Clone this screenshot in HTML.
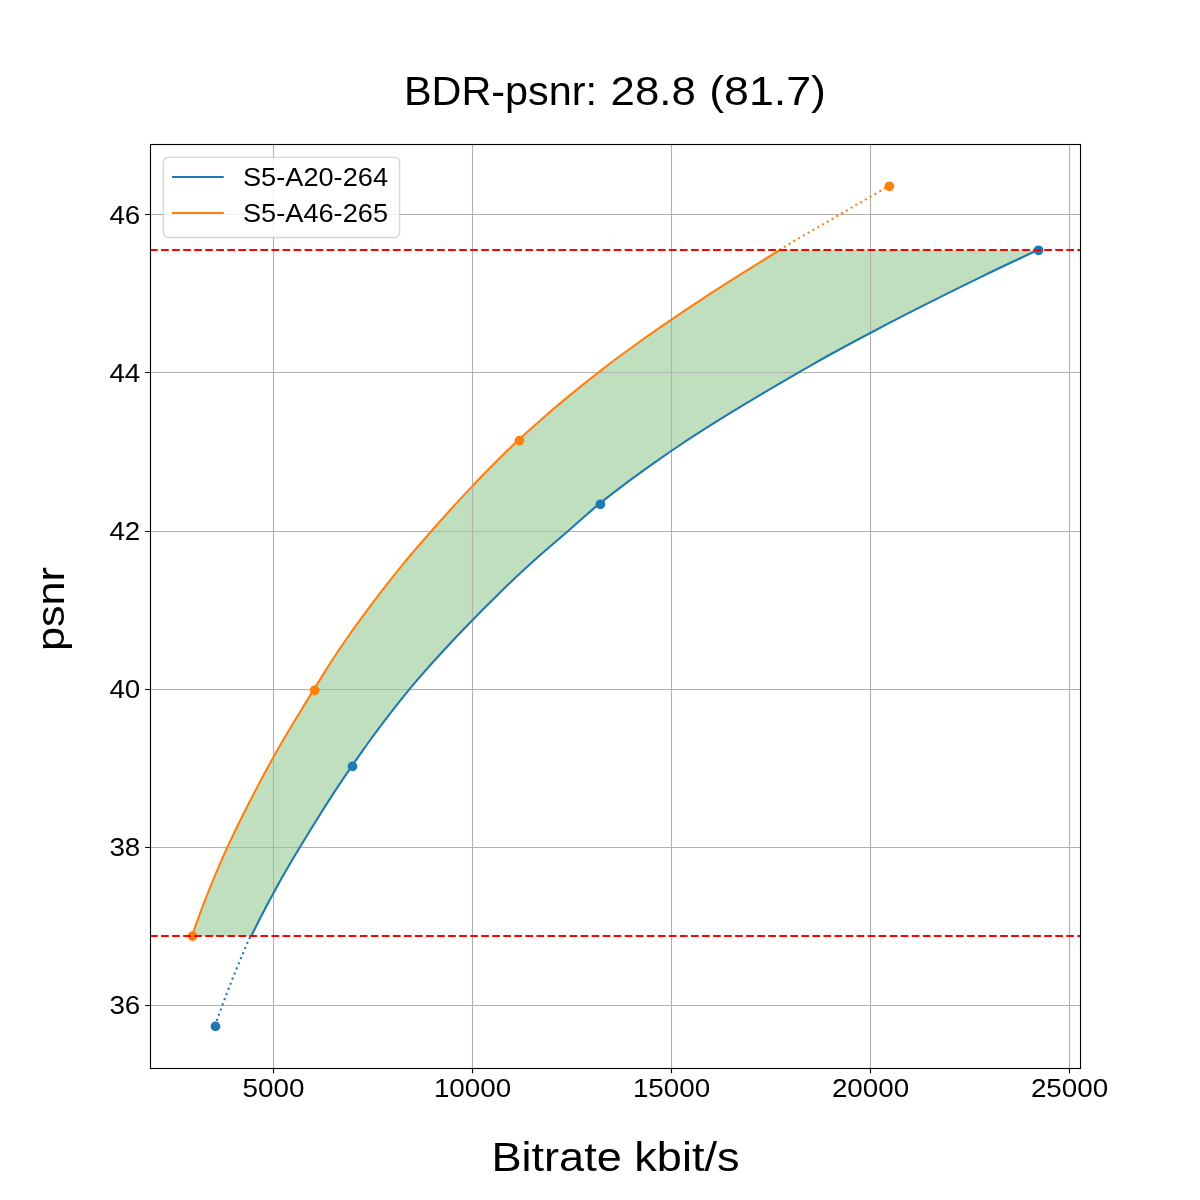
<!DOCTYPE html>
<html><head><meta charset="utf-8"><title>BDR-psnr chart</title>
<style>html,body{margin:0;padding:0;background:#fff;overflow:hidden}svg{display:block}text{font-family:"Liberation Sans",sans-serif;fill:#000}svg{will-change:transform}</style>
</head><body>
<svg width="1200" height="1200" viewBox="0 0 1200 1200">
<rect x="0" y="0" width="1200" height="1200" fill="#ffffff"/>
<path d="M780.00,250.00 L770.49,255.76 L761.08,261.53 L751.76,267.29 L742.54,273.06 L733.41,278.82 L724.38,284.59 L715.44,290.35 L706.60,296.12 L697.84,301.88 L689.18,307.65 L680.60,313.41 L672.12,319.18 L663.72,324.94 L655.39,330.71 L647.14,336.47 L638.99,342.24 L630.95,348.00 L623.03,353.76 L615.24,359.53 L607.59,365.29 L600.10,371.06 L592.75,376.82 L585.49,382.59 L578.33,388.35 L571.26,394.12 L564.29,399.88 L557.41,405.65 L550.63,411.41 L543.96,417.18 L537.38,422.94 L530.90,428.71 L524.53,434.47 L518.27,440.24 L512.13,446.00 L506.13,451.76 L500.26,457.53 L494.50,463.29 L488.82,469.06 L483.22,474.82 L477.67,480.59 L472.16,486.35 L466.71,492.12 L461.32,497.88 L455.99,503.65 L450.73,509.41 L445.51,515.18 L440.35,520.94 L435.23,526.71 L430.15,532.47 L425.10,538.24 L420.09,544.00 L415.13,549.76 L410.23,555.53 L405.40,561.29 L400.64,567.06 L395.97,572.82 L391.38,578.59 L386.86,584.35 L382.39,590.12 L377.99,595.88 L373.63,601.65 L369.32,607.41 L365.05,613.18 L360.81,618.94 L356.61,624.71 L352.46,630.47 L348.37,636.24 L344.35,642.00 L340.41,647.76 L336.55,653.53 L332.78,659.29 L329.09,665.06 L325.45,670.82 L321.85,676.59 L318.28,682.35 L314.73,688.12 L311.18,693.88 L307.62,699.65 L304.07,705.41 L300.53,711.18 L297.00,716.94 L293.50,722.71 L290.03,728.47 L286.59,734.24 L283.20,740.00 L279.86,745.76 L276.57,751.53 L273.35,757.29 L270.18,763.06 L267.03,768.82 L263.90,774.59 L260.81,780.35 L257.74,786.12 L254.71,791.88 L251.71,797.65 L248.74,803.41 L245.80,809.18 L242.90,814.94 L240.04,820.71 L237.21,826.47 L234.43,832.24 L231.68,838.00 L228.98,843.76 L226.32,849.53 L223.71,855.29 L221.16,861.06 L218.67,866.82 L216.22,872.59 L213.82,878.35 L211.46,884.12 L209.15,889.88 L206.87,895.65 L204.63,901.41 L202.42,907.18 L200.26,912.94 L198.13,918.71 L196.04,924.47 L194.00,930.24 L192.00,936.00 L251.30,936.00 L254.12,930.24 L256.99,924.47 L259.91,918.71 L262.87,912.94 L265.88,907.18 L268.93,901.41 L272.03,895.65 L275.16,889.88 L278.35,884.12 L281.60,878.35 L284.90,872.59 L288.24,866.82 L291.63,861.06 L295.06,855.29 L298.52,849.53 L302.01,843.76 L305.52,838.00 L309.04,832.24 L312.59,826.47 L316.16,820.71 L319.76,814.94 L323.39,809.18 L327.05,803.41 L330.75,797.65 L334.49,791.88 L338.28,786.12 L342.11,780.35 L345.99,774.59 L349.92,768.82 L353.90,763.06 L357.93,757.29 L362.01,751.53 L366.13,745.76 L370.30,740.00 L374.53,734.24 L378.81,728.47 L383.14,722.71 L387.53,716.94 L391.98,711.18 L396.48,705.41 L401.05,699.65 L405.69,693.88 L410.38,688.12 L415.21,682.35 L420.16,676.59 L425.21,670.82 L430.36,665.06 L435.58,659.29 L440.86,653.53 L446.16,647.76 L451.52,642.00 L456.94,636.24 L462.43,630.47 L467.97,624.71 L473.57,618.94 L479.23,613.18 L484.95,607.41 L490.74,601.65 L496.58,595.88 L502.51,590.12 L508.50,584.35 L514.58,578.59 L520.73,572.82 L526.96,567.06 L533.27,561.29 L539.70,555.53 L546.29,549.76 L552.97,544.00 L559.69,538.24 L566.38,532.47 L572.96,526.71 L579.45,520.94 L585.98,515.18 L592.67,509.41 L599.67,503.65 L606.89,497.88 L614.28,492.12 L621.82,486.35 L629.51,480.59 L637.35,474.82 L645.33,469.06 L653.45,463.29 L661.70,457.53 L670.09,451.76 L678.62,446.00 L687.31,440.24 L696.16,434.47 L705.15,428.71 L714.28,422.94 L723.53,417.18 L732.90,411.41 L742.38,405.65 L751.96,399.88 L761.62,394.12 L771.37,388.35 L781.18,382.59 L791.06,376.82 L800.99,371.06 L811.05,365.29 L821.27,359.53 L831.64,353.76 L842.17,348.00 L852.83,342.24 L863.64,336.47 L874.58,330.71 L885.61,324.94 L896.72,319.18 L907.92,313.41 L919.22,307.65 L930.61,301.88 L942.10,296.12 L953.68,290.35 L965.38,284.59 L977.18,278.82 L989.09,273.06 L1001.11,267.29 L1013.25,261.53 L1025.52,255.76 L1037.90,250.00 Z" fill="#008000" fill-opacity="0.25" stroke="none"/>
<path d="M273.5,144 V1068 M472.5,144 V1068 M671.5,144 V1068 M870.5,144 V1068 M1069.5,144 V1068 M150,1005.5 H1080 M150,847.5 H1080 M150,689.5 H1080 M150,531.5 H1080 M150,372.5 H1080 M150,214.5 H1080" stroke="#b0b0b0" stroke-width="1.11" fill="none"/>
<path d="M214.8,1026.1 Q231.0,980.2 250.6,935.7" stroke="#1f77b4" stroke-width="2.08" stroke-dasharray="2.08 3.44" fill="none"/>
<path d="M779.7,249.5 L889.1,185.8" stroke="#ff7f0e" stroke-width="2.08" stroke-dasharray="2.08 3.44" stroke-dashoffset="0.7" fill="none"/>
<path d="M1037.90,250.00 L1025.52,255.76 L1013.25,261.53 L1001.11,267.29 L989.09,273.06 L977.18,278.82 L965.38,284.59 L953.68,290.35 L942.10,296.12 L930.61,301.88 L919.22,307.65 L907.92,313.41 L896.72,319.18 L885.61,324.94 L874.58,330.71 L863.64,336.47 L852.83,342.24 L842.17,348.00 L831.64,353.76 L821.27,359.53 L811.05,365.29 L800.99,371.06 L791.06,376.82 L781.18,382.59 L771.37,388.35 L761.62,394.12 L751.96,399.88 L742.38,405.65 L732.90,411.41 L723.53,417.18 L714.28,422.94 L705.15,428.71 L696.16,434.47 L687.31,440.24 L678.62,446.00 L670.09,451.76 L661.70,457.53 L653.45,463.29 L645.33,469.06 L637.35,474.82 L629.51,480.59 L621.82,486.35 L614.28,492.12 L606.89,497.88 L599.67,503.65 L592.67,509.41 L585.98,515.18 L579.45,520.94 L572.96,526.71 L566.38,532.47 L559.69,538.24 L552.97,544.00 L546.29,549.76 L539.70,555.53 L533.27,561.29 L526.96,567.06 L520.73,572.82 L514.58,578.59 L508.50,584.35 L502.51,590.12 L496.58,595.88 L490.74,601.65 L484.95,607.41 L479.23,613.18 L473.57,618.94 L467.97,624.71 L462.43,630.47 L456.94,636.24 L451.52,642.00 L446.16,647.76 L440.86,653.53 L435.58,659.29 L430.36,665.06 L425.21,670.82 L420.16,676.59 L415.21,682.35 L410.38,688.12 L405.69,693.88 L401.05,699.65 L396.48,705.41 L391.98,711.18 L387.53,716.94 L383.14,722.71 L378.81,728.47 L374.53,734.24 L370.30,740.00 L366.13,745.76 L362.01,751.53 L357.93,757.29 L353.90,763.06 L349.92,768.82 L345.99,774.59 L342.11,780.35 L338.28,786.12 L334.49,791.88 L330.75,797.65 L327.05,803.41 L323.39,809.18 L319.76,814.94 L316.16,820.71 L312.59,826.47 L309.04,832.24 L305.52,838.00 L302.01,843.76 L298.52,849.53 L295.06,855.29 L291.63,861.06 L288.24,866.82 L284.90,872.59 L281.60,878.35 L278.35,884.12 L275.16,889.88 L272.03,895.65 L268.93,901.41 L265.88,907.18 L262.87,912.94 L259.91,918.71 L256.99,924.47 L254.12,930.24 L251.30,936.00" stroke="#1f77b4" stroke-width="2.08" fill="none" stroke-linejoin="round"/>
<path d="M780.00,250.00 L770.49,255.76 L761.08,261.53 L751.76,267.29 L742.54,273.06 L733.41,278.82 L724.38,284.59 L715.44,290.35 L706.60,296.12 L697.84,301.88 L689.18,307.65 L680.60,313.41 L672.12,319.18 L663.72,324.94 L655.39,330.71 L647.14,336.47 L638.99,342.24 L630.95,348.00 L623.03,353.76 L615.24,359.53 L607.59,365.29 L600.10,371.06 L592.75,376.82 L585.49,382.59 L578.33,388.35 L571.26,394.12 L564.29,399.88 L557.41,405.65 L550.63,411.41 L543.96,417.18 L537.38,422.94 L530.90,428.71 L524.53,434.47 L518.27,440.24 L512.13,446.00 L506.13,451.76 L500.26,457.53 L494.50,463.29 L488.82,469.06 L483.22,474.82 L477.67,480.59 L472.16,486.35 L466.71,492.12 L461.32,497.88 L455.99,503.65 L450.73,509.41 L445.51,515.18 L440.35,520.94 L435.23,526.71 L430.15,532.47 L425.10,538.24 L420.09,544.00 L415.13,549.76 L410.23,555.53 L405.40,561.29 L400.64,567.06 L395.97,572.82 L391.38,578.59 L386.86,584.35 L382.39,590.12 L377.99,595.88 L373.63,601.65 L369.32,607.41 L365.05,613.18 L360.81,618.94 L356.61,624.71 L352.46,630.47 L348.37,636.24 L344.35,642.00 L340.41,647.76 L336.55,653.53 L332.78,659.29 L329.09,665.06 L325.45,670.82 L321.85,676.59 L318.28,682.35 L314.73,688.12 L311.18,693.88 L307.62,699.65 L304.07,705.41 L300.53,711.18 L297.00,716.94 L293.50,722.71 L290.03,728.47 L286.59,734.24 L283.20,740.00 L279.86,745.76 L276.57,751.53 L273.35,757.29 L270.18,763.06 L267.03,768.82 L263.90,774.59 L260.81,780.35 L257.74,786.12 L254.71,791.88 L251.71,797.65 L248.74,803.41 L245.80,809.18 L242.90,814.94 L240.04,820.71 L237.21,826.47 L234.43,832.24 L231.68,838.00 L228.98,843.76 L226.32,849.53 L223.71,855.29 L221.16,861.06 L218.67,866.82 L216.22,872.59 L213.82,878.35 L211.46,884.12 L209.15,889.88 L206.87,895.65 L204.63,901.41 L202.42,907.18 L200.26,912.94 L198.13,918.71 L196.04,924.47 L194.00,930.24 L192.00,936.00" stroke="#ff7f0e" stroke-width="2.08" fill="none" stroke-linejoin="round"/>
<circle cx="215.5" cy="1026.4" r="4.86" fill="#1f77b4"/>
<circle cx="352.5" cy="766.4" r="4.86" fill="#1f77b4"/>
<circle cx="600.4" cy="504.3" r="4.86" fill="#1f77b4"/>
<circle cx="1038.5" cy="250.3" r="4.86" fill="#1f77b4"/>
<circle cx="192.5" cy="936.1" r="4.86" fill="#ff7f0e"/>
<circle cx="314.7" cy="690.3" r="4.86" fill="#ff7f0e"/>
<circle cx="519.5" cy="440.6" r="4.86" fill="#ff7f0e"/>
<circle cx="889.4" cy="186.3" r="4.86" fill="#ff7f0e"/>
<path d="M150,250 H1080 M150,936 H1080" stroke="#ff0000" stroke-width="2.08" stroke-dasharray="7.71 3.33" fill="none"/>
<rect x="150.5" y="144.5" width="930" height="924" fill="none" stroke="#000" stroke-width="1.11"/>
<path d="M273.5,1068 V1073.36 M472.5,1068 V1073.36 M671.5,1068 V1073.36 M870.5,1068 V1073.36 M1069.5,1068 V1073.36 M145.14,1005.5 H150 M145.14,847.5 H150 M145.14,689.5 H150 M145.14,531.5 H150 M145.14,372.5 H150 M145.14,214.5 H150" stroke="#000" stroke-width="1.11" fill="none"/>
<text x="273.5" y="1097" font-family="Liberation Sans, sans-serif" font-size="25" text-anchor="middle" textLength="61.8" lengthAdjust="spacingAndGlyphs">5000</text>
<text x="472.5" y="1097" font-family="Liberation Sans, sans-serif" font-size="25" text-anchor="middle" textLength="77.25" lengthAdjust="spacingAndGlyphs">10000</text>
<text x="671.5" y="1097" font-family="Liberation Sans, sans-serif" font-size="25" text-anchor="middle" textLength="77.25" lengthAdjust="spacingAndGlyphs">15000</text>
<text x="870.5" y="1097" font-family="Liberation Sans, sans-serif" font-size="25" text-anchor="middle" textLength="77.25" lengthAdjust="spacingAndGlyphs">20000</text>
<text x="1069.5" y="1097" font-family="Liberation Sans, sans-serif" font-size="25" text-anchor="middle" textLength="77.25" lengthAdjust="spacingAndGlyphs">25000</text>
<text x="140.3" y="1013.75" font-family="Liberation Sans, sans-serif" font-size="25" text-anchor="end" textLength="30.9" lengthAdjust="spacingAndGlyphs">36</text>
<text x="140.3" y="855.9" font-family="Liberation Sans, sans-serif" font-size="25" text-anchor="end" textLength="30.9" lengthAdjust="spacingAndGlyphs">38</text>
<text x="140.3" y="697.9" font-family="Liberation Sans, sans-serif" font-size="25" text-anchor="end" textLength="30.9" lengthAdjust="spacingAndGlyphs">40</text>
<text x="140.3" y="539.9" font-family="Liberation Sans, sans-serif" font-size="25" text-anchor="end" textLength="30.9" lengthAdjust="spacingAndGlyphs">42</text>
<text x="140.3" y="381.8" font-family="Liberation Sans, sans-serif" font-size="25" text-anchor="end" textLength="30.9" lengthAdjust="spacingAndGlyphs">44</text>
<text x="140.3" y="223.75" font-family="Liberation Sans, sans-serif" font-size="25" text-anchor="end" textLength="30.9" lengthAdjust="spacingAndGlyphs">46</text>
<rect x="163.4" y="157.4" width="236.2" height="80.1" rx="4.9" ry="4.9" fill="#ffffff" fill-opacity="0.8" stroke="#cccccc" stroke-opacity="0.8" stroke-width="1.39"/>
<path d="M172,177 H223.75" stroke="#1f77b4" stroke-width="2.08"/>
<path d="M172,213 H223.75" stroke="#ff7f0e" stroke-width="2.08"/>
<text x="243" y="185.8" font-family="Liberation Sans, sans-serif" font-size="25" textLength="145" lengthAdjust="spacingAndGlyphs">S5-A20-264</text>
<text x="243" y="221.9" font-family="Liberation Sans, sans-serif" font-size="25" textLength="145" lengthAdjust="spacingAndGlyphs">S5-A46-265</text>
<text x="404.00" y="104.8" font-family="Liberation Sans, sans-serif" font-size="40" textLength="193.00" lengthAdjust="spacingAndGlyphs">BDR-psnr:</text>
<text x="610.60" y="104.8" font-family="Liberation Sans, sans-serif" font-size="40" textLength="85.24" lengthAdjust="spacingAndGlyphs">28.8</text>
<text x="709.20" y="104.8" font-family="Liberation Sans, sans-serif" font-size="40" textLength="116.80" lengthAdjust="spacingAndGlyphs">(81.7)</text>
<text x="615.5" y="1171" font-family="Liberation Sans, sans-serif" font-size="40" text-anchor="middle" textLength="248" lengthAdjust="spacingAndGlyphs">Bitrate kbit/s</text>
<text transform="translate(64,609) rotate(-90)" x="0" y="0" font-family="Liberation Sans, sans-serif" font-size="39.3" text-anchor="middle" textLength="84" lengthAdjust="spacingAndGlyphs">psnr</text>
</svg>
</body></html>
